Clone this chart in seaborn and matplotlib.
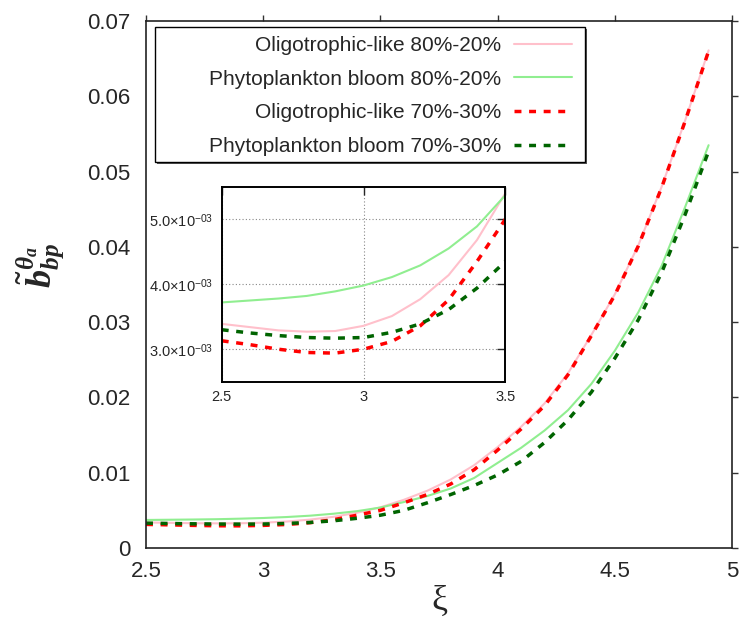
import matplotlib
matplotlib.use("Agg")
import matplotlib.pyplot as plt
import seaborn as sns
from matplotlib.ticker import FixedLocator, FuncFormatter
from matplotlib.patches import Rectangle

# xi grid
xi = [2.5, 2.6, 2.7, 2.8, 2.9, 3.0, 3.1, 3.2, 3.3, 3.4, 3.5, 3.6, 3.7,
      3.8, 3.9, 4.0, 4.1, 4.2, 4.3, 4.4, 4.5, 4.6, 4.7, 4.8, 4.9]

oligo_80 = [0.00339, 0.00334, 0.00329, 0.00327, 0.00328, 0.00336, 0.00351, 0.00377,
            0.00414, 0.00468, 0.00540, 0.0064, 0.0076, 0.0091, 0.0110, 0.0134,
            0.0161, 0.0192, 0.0232, 0.0283, 0.0337, 0.0402, 0.0480, 0.0568, 0.0661]
bloom_80 = [0.00372, 0.00375, 0.00378, 0.00382, 0.00389, 0.00398, 0.00411, 0.00429,
            0.00455, 0.00489, 0.00537, 0.0061, 0.0069, 0.0079, 0.0093, 0.0113,
            0.0133, 0.0156, 0.0183, 0.0218, 0.0262, 0.0313, 0.0375, 0.0453, 0.0535]
oligo_70 = [0.00313, 0.00307, 0.00300, 0.00295, 0.00294, 0.00300, 0.00312, 0.00336,
            0.00376, 0.00435, 0.00500, 0.0060, 0.0071, 0.0085, 0.0104, 0.0130,
            0.0158, 0.0189, 0.0230, 0.0282, 0.0336, 0.0401, 0.0479, 0.0567, 0.0660]
bloom_70 = [0.00330, 0.00325, 0.00321, 0.00318, 0.00317, 0.00318, 0.00326, 0.00339,
            0.00361, 0.00394, 0.00435, 0.0050, 0.0060, 0.0071, 0.0083, 0.0097,
            0.0115, 0.0140, 0.0170, 0.0207, 0.0252, 0.0303, 0.0366, 0.0443, 0.0527]

labels = ["Oligotrophic-like 80%-20%", "Phytoplankton bloom 80%-20%",
          "Oligotrophic-like 70%-30%", "Phytoplankton bloom 70%-30%"]
colors = ["#ffc0cb", "#90ee90", "#ff0000", "#006400"]
styles = [("-", 1.5), ("-", 1.5), ((0, (2, 2.2)), 2.5), ((0, (2, 2.2)), 2.5)]
series = [oligo_80, bloom_80, oligo_70, bloom_70]

main_xticks = [2.5, 3, 3.5, 4, 4.5, 5]
main_yticks = [0, 0.01, 0.02, 0.03, 0.04, 0.05, 0.06, 0.07]
inset_xticks = [2.5, 3, 3.5]
inset_yticks = [0.003, 0.004, 0.005]

sns.set_style("white")
plt.rcParams["font.family"] = ["Liberation Sans", "DejaVu Sans"]
plt.rcParams["mathtext.fontset"] = "custom"
plt.rcParams["mathtext.rm"] = "Liberation Sans"
plt.rcParams["mathtext.it"] = "Liberation Serif:italic:bold"
plt.rcParams["mathtext.bf"] = "Liberation Serif:bold"

fig = plt.figure(figsize=(7.45, 6.21), dpi=100)
ax = fig.add_axes([0.196, 0.1176, 0.7866, 0.8486])


def draw(a, with_label):
    for vals, lab, c, (ls, lw) in zip(series, labels, colors, styles):
        sns.lineplot(x=xi, y=vals, ax=a, color=c, linestyle=ls, linewidth=lw,
                     label=lab if with_label else None, legend=False)


draw(ax, True)
ax.set_xlim(2.5, 5)
ax.set_ylim(0, 0.07)
ax.xaxis.set_major_locator(FixedLocator(main_xticks))
ax.yaxis.set_major_locator(FixedLocator(main_yticks))
fmt = FuncFormatter(lambda v, p: f"{v:g}")
ax.xaxis.set_major_formatter(fmt)
ax.yaxis.set_major_formatter(fmt)
ax.tick_params(direction="out", length=4.5, width=1, labelsize=16, color="#333333",
               top=True, right=True)
ax.tick_params(axis="x", pad=5)
ax.tick_params(axis="y", pad=6.5)
for s in ax.spines.values():
    s.set_color("#222222")
    s.set_linewidth(1.2)

ax.set_xlabel("ξ", family="Liberation Serif", fontsize=26)
ax.xaxis.set_label_coords(0.5, -0.07)
ax.set_ylabel(r"$\tilde{b}_{bp}^{\theta_a}$", fontsize=26, rotation=90)
ax.yaxis.set_label_coords(-0.135, 0.535)

# legend box (gnuplot style with shadow)
ax.add_patch(Rectangle((0.019, 0.729), 0.734, 0.255, transform=ax.transAxes,
                       facecolor="#555555", edgecolor="none", zorder=4))
ax.add_patch(Rectangle((0.0154, 0.733), 0.734, 0.255, transform=ax.transAxes,
                       facecolor="white", edgecolor="black", linewidth=1, zorder=5))
handles, labs = ax.get_legend_handles_labels()
leg = ax.legend(handles, labs, loc="upper right", bbox_to_anchor=(0.749, 0.995),
                frameon=False, fontsize=15, markerfirst=False, handlelength=2.8,
                handletextpad=0.6, labelspacing=0.7, borderpad=0.6, borderaxespad=0)
leg.set_zorder(6)

# inset
axin = fig.add_axes([0.2976, 0.3853, 0.3807, 0.3140])
draw(axin, False)
axin.set_xlim(2.5, 3.5)
axin.set_ylim(0.0025, 0.0055)
axin.xaxis.set_major_locator(FixedLocator(inset_xticks))
axin.yaxis.set_major_locator(FixedLocator(inset_yticks))
axin.xaxis.set_major_formatter(fmt)
axin.yaxis.set_major_formatter(
    FuncFormatter(lambda v, p: f"{v * 1e3:.1f}×10$^{{-03}}$"))
axin.tick_params(direction="in", length=6, width=1, labelsize=10.5,
                 top=True, right=True, pad=6)
axin.grid(True, color="#888888", linestyle=(0, (1, 2)), linewidth=0.8)
for s in axin.spines.values():
    s.set_color("black")
    s.set_linewidth(1.4)

fig.savefig("out.png", dpi=100)
